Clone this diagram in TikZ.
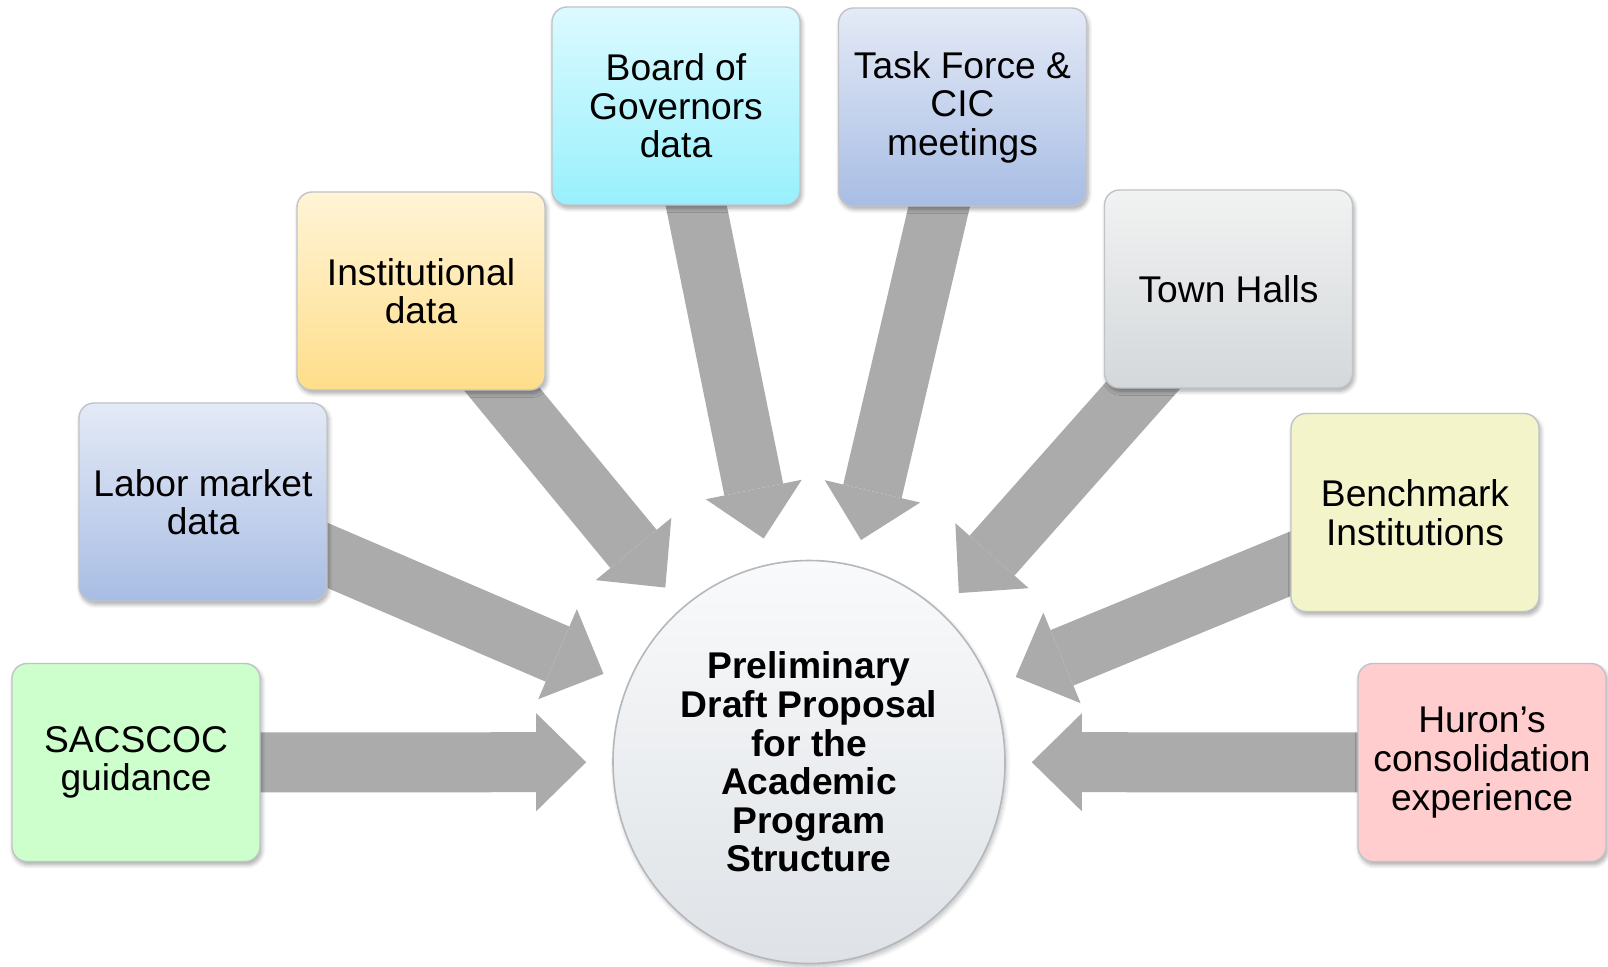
\documentclass[tikz,border=0pt]{standalone}
\usepackage{fontspec}
\setmainfont{Liberation Sans}
\usepackage{tikz}
\usetikzlibrary{arrows.meta,shapes.geometric,shadows.blur,backgrounds}
\usepackage{xcolor}
\definecolor{arrowgray}{RGB}{171,171,171}
\definecolor{boxborder}{RGB}{192,196,200}
\definecolor{greenfill}{RGB}{204,255,204}
\definecolor{bluetop}{RGB}{228,234,246}
\definecolor{bluebot}{RGB}{168,189,228}
\definecolor{goldtop}{RGB}{255,244,214}
\definecolor{goldbot}{RGB}{255,222,138}
\definecolor{cyantop}{RGB}{220,250,255}
\definecolor{cyanbot}{RGB}{152,240,252}
\definecolor{graytop}{RGB}{241,242,242}
\definecolor{graybot}{RGB}{212,216,218}
\definecolor{creamfill}{RGB}{243,244,202}
\definecolor{pinkfill}{RGB}{255,205,205}
\definecolor{circtop}{RGB}{249,250,251}
\definecolor{circbot}{RGB}{222,226,230}
\definecolor{circborder}{RGB}{180,184,188}
\tikzstyle{srcbox} = [rectangle, rounded corners=7.5pt, minimum width=124pt, minimum height=99pt, align=center, draw=boxborder, line width=0.7pt, font=\fontsize{18.6}{19.3}\selectfont, blur shadow={shadow xshift=0.8pt, shadow yshift=-1.6pt, shadow blur steps=6, shadow opacity=35}]
\tikzstyle{bigarrow} = [line width=30pt, draw=arrowgray, -{Triangle[length=25pt,width=49pt,line width=0pt]}, shorten >=13pt]

\begin{document}
\begin{tikzpicture}[x=0.5pt,y=-0.5pt]
\useasboundingbox (0,0) rectangle (1608,966);

% Centre proposal
\node[ellipse, minimum width=196pt, minimum height=201.5pt, inner sep=0pt, draw=circborder, line width=0.8pt, top color=circtop, bottom color=circbot, align=center, font=\bfseries\fontsize{18.6}{19.3}\selectfont, blur shadow={shadow xshift=0.8pt, shadow yshift=-1.6pt, shadow blur steps=6, shadow opacity=25}] at (809,762) (prop) {Preliminary\\Draft Proposal\\for the\\Academic\\Program\\Structure};

% Input boxes
\node[srcbox, fill=greenfill] at (136,762.5) (sacs) {SACSCOC\\guidance};
\node[srcbox, top color=bluetop, bottom color=bluebot] at (203,502) (labor) {Labor market\\data};
\node[srcbox, top color=goldtop, bottom color=goldbot] at (421,291) (inst) {Institutional\\data};
\node[srcbox, top color=cyantop, bottom color=cyanbot] at (676,106) (board) {Board of\\Governors\\data};
\node[srcbox, top color=bluetop, bottom color=bluebot] at (962.5,107) (task) {Task Force \&\\CIC\\meetings};
\node[srcbox, top color=graytop, bottom color=graybot] at (1228.5,289) (town) {Town Halls};
\node[srcbox, fill=creamfill] at (1415,512.5) (bench) {Benchmark\\Institutions};
\node[srcbox, fill=pinkfill] at (1482,762.5) (huron) {Huron’s\\consolidation\\experience};

% Arrows into the proposal
\begin{scope}[on background layer]
\foreach \src in {sacs,labor,inst,board,task,town,bench,huron}
  \draw[bigarrow] (\src.center) -- (prop);
\end{scope}
\end{tikzpicture}
\end{document}
